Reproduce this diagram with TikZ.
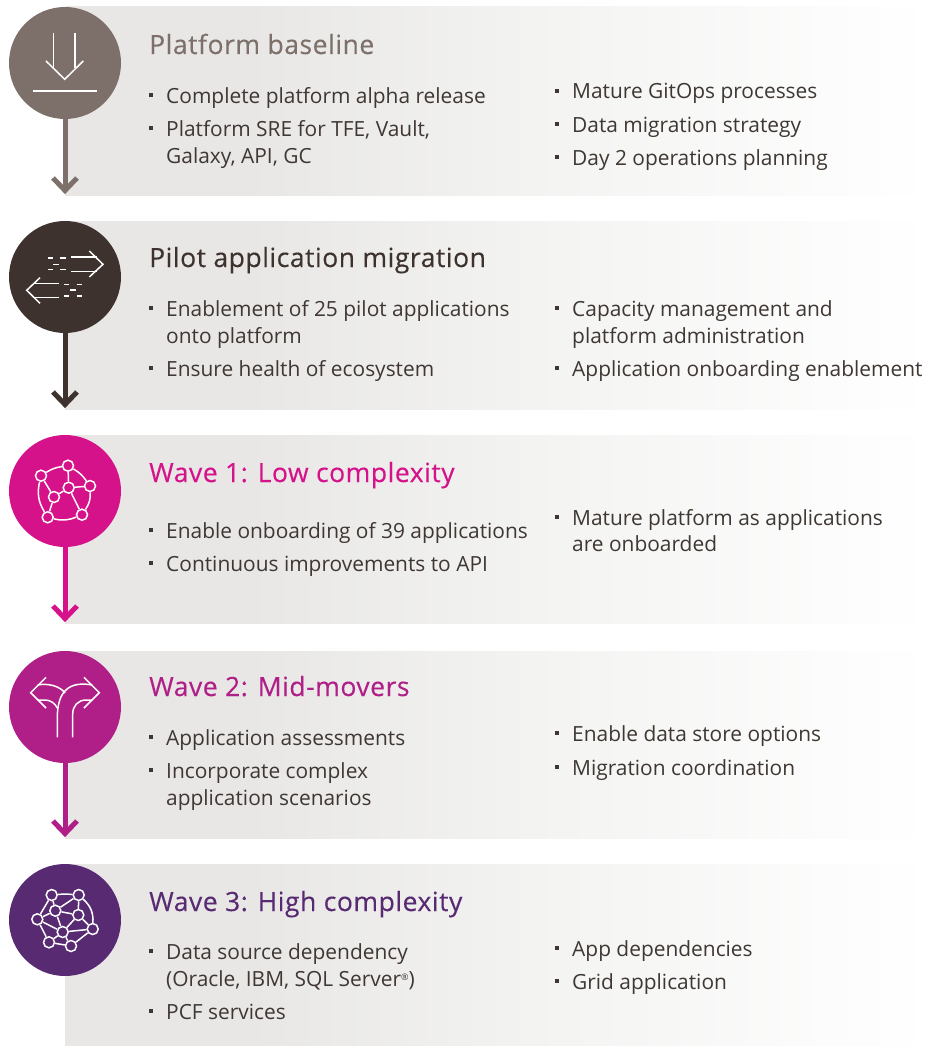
\documentclass[tikz,border=0pt]{standalone}
\usepackage{fontspec}
\setmainfont{Open Sans}
\newfontface\titlefont[LetterSpace=2,FakeBold=0.25]{Open Sans}
\definecolor{cA}{HTML}{7D706A}
\definecolor{cB}{HTML}{3D322D}
\definecolor{cC}{HTML}{D5128A}
\definecolor{cD}{HTML}{B01E87}
\definecolor{cE}{HTML}{572A72}
\definecolor{txt}{HTML}{3F3733}
\definecolor{band}{HTML}{E8E7E6}
\definecolor{bandmid}{HTML}{F3F3F2}
\pgfdeclarehorizontalshading{bandfade}{100bp}{color(0bp)=(band); color(35.7bp)=(band); color(51.9bp)=(bandmid); color(75bp)=(white); color(100bp)=(white)}
\tikzset{
  x=1pt,y=-1pt,
  bandbox/.style={shading=bandfade,draw=none},
  disc/.style={circle,minimum size=112pt,inner sep=0pt,fill=#1},
  stem/.style={draw=#1,line width=5pt},
  tip/.style={draw=#1,line width=5pt,miter limit=10},
  title/.style={anchor=base west,inner sep=0pt,font=\titlefont\fontsize{26.5}{30}\selectfont,text=#1},
  body/.style={anchor=base west,inner sep=0pt,font=\fontsize{20.9}{27}\selectfont,text=txt},
  bul/.style={rectangle,fill=txt,minimum size=4pt,inner sep=0pt},
  ico/.style={draw=white,line width=1.5pt},
  hub/.style={circle,draw=white,line width=1.5pt,minimum size=11pt,inner sep=0pt,fill=#1},
}
\newcommand{\stp}[5]{% name, cy, band top, band bottom, colour
  \fill[bandbox] (65,#3) rectangle (930,#4);
  \node[disc=#5] (#1) at (65,#2) {};
}
\newcommand{\flow}[3]{% name, colour, tip y
  \coordinate (#1end) at (65,#3);
  \draw[stem=#2] (#1.south) -- ([yshift=5pt]#1end);
  \draw[tip=#2] ([shift={(-12,-16)}]#1end) -- ([yshift=3.5pt]#1end) -- ([shift={(12,-16)}]#1end);
}
\newcommand{\bitem}[4]{% name, x, y, text
  \node[bul] (#1b) at (#2-15,#3-8) {};
  \node[body] (#1) at (#2,#3) {#4};
}
\begin{document}
\begin{tikzpicture}
\useasboundingbox (0,0) rectangle (930,1046);
\fill[white] (0,0) rectangle (930,1046);
% steps
\stp{sA}{63}{7}{195}{cA}
\stp{sB}{277}{221}{409}{cB}
\stp{sC}{491}{435}{623}{cC}
\stp{sD}{707}{651}{838}{cD}
\stp{sE}{920}{864}{1046}{cE}
\flow{sA}{cA}{194}
\flow{sB}{cB}{408}
\flow{sC}{cC}{622}
\flow{sD}{cD}{837}
% titles
\node[title=cA] (tA) at (149,54) {Platform baseline};
\node[title=cB] (tB) at (149,267) {Pilot application migration};
\node[title=cC] (tC) at (149,482) {Wave 1: Low complexity};
\node[title=cD] (tD) at (149,696) {Wave 2: Mid-movers};
\node[title=cE] (tE) at (149,911) {Wave 3: High complexity};
% items 1
\bitem{a1}{166}{103}{Complete platform alpha release}
\bitem{a2}{166}{136}{Platform SRE for TFE, Vault,}
\node[body] (a2x) at (166,163) {Galaxy, API, GC};
\bitem{a3}{572}{99}{Mature GitOps processes}
\bitem{a4}{572}{132}{Data migration strategy}
\bitem{a5}{572}{165}{Day 2 operations planning}
% items 2
\bitem{b1}{166}{316}{Enablement of 25 pilot applications}
\node[body] (b1x) at (166,343) {onto platform};
\bitem{b2}{166}{376}{Ensure health of ecosystem}
\bitem{b3}{572}{316}{Capacity management and}
\node[body] (b3x) at (572,343) {platform administration};
\bitem{b4}{572}{376}{Application onboarding enablement}
% items 3
\bitem{c1}{166}{538}{Enable onboarding of 39 applications}
\bitem{c2}{166}{571}{Continuous improvements to API}
\bitem{c3}{572}{525}{Mature platform as applications}
\node[body] (c3x) at (572,551) {are onboarded};
% items 4
\bitem{d1}{166}{745}{Application assessments}
\bitem{d2}{166}{778}{Incorporate complex}
\node[body] (d2x) at (166,805) {application scenarios};
\bitem{d3}{572}{741}{Enable data store options}
\bitem{d4}{572}{775}{Migration coordination}
% items 5
\bitem{e1}{166}{959}{Data source dependency}
\node[body] (e1x) at (166,986) {(Oracle, IBM, SQL Server\raisebox{6pt}{\fontsize{9}{9}\selectfont ®})};
\bitem{e2}{166}{1019}{PCF services}
\bitem{e3}{572}{956}{App dependencies}
\bitem{e4}{572}{989}{Grid application}
% icon 1
\draw[ico] (53.3,33.5) -- (53.3,68.5);
\draw[ico] (75,33.5) -- (75,68.5);
\draw[ico] (46,61) -- (64.7,79.3) -- (83.3,61);
\draw[ico] (33,91) -- (97,91);
% icon 2
\draw[ico] (71,257) -- (97,257) (71,271.7) -- (97,271.7);
\draw[ico] (89.3,251) -- (103,264.3) -- (89.3,277);
\draw[ico] (47.7,258) -- (53.3,258) (60,258) -- (65.7,258) (53.3,264.3) -- (59.3,264.3) (47.7,269.3) -- (52.7,269.3) (60,269.3) -- (65.7,269.3);
\draw[ico] (33.3,283.3) -- (59,283.3) (33.3,297.7) -- (59,297.7);
\draw[ico] (40,277.7) -- (26.7,290.3) -- (40,303.3);
\draw[ico] (64,284.3) -- (69,284.3) (76.7,284.3) -- (82.3,284.3) (70,290) -- (76,290) (64,296) -- (69,296) (76.7,296) -- (82.3,296);
% icon 3
\node[hub=cC] (n1) at (41,475.7) {};
\node[hub=cC] (n2) at (68,465.7) {};
\node[hub=cC] (n3) at (90,486) {};
\node[hub=cC] (n4) at (68.7,487.7) {};
\node[hub=cC] (n5) at (54,497) {};
\node[hub=cC] (n6) at (47.7,517.3) {};
\node[hub=cC] (n7) at (82,514.7) {};
\draw[ico] (n1) to[bend left=12] (n2);
\draw[ico] (n2) to[bend left=12] (n3);
\draw[ico] (n3) to[bend left=18] (n7);
\draw[ico] (n7) to[bend left=18] (n6);
\draw[ico] (n6) to[bend left=22] (n1);
\draw[ico] (n2) -- (n4);
\draw[ico] (n4) -- (n3);
\draw[ico] (n4) -- (n5);
\draw[ico] (n1) -- (n5);
\draw[ico] (n5) -- (n6);
\draw[ico] (n4) -- (n7);
% icon 4
\draw[ico] (46,677.3) -- (30.7,692.7) -- (46,708);
\draw[ico] (84,677.3) -- (99.3,692.7) -- (84,708);
\draw[ico] (92.3,685) .. controls (70,681) and (57.3,690) .. (57.3,718) -- (57.3,737.3);
\draw[ico] (37.7,685) .. controls (48,683) and (60,686) .. (65,693);
\draw[ico] (37.7,700) -- (45,700) .. controls (50,700) and (55,703) .. (57.3,708);
\draw[ico] (92.3,700) -- (86,700) .. controls (78,700) and (72.7,706) .. (72.7,714) -- (72.7,737.3);
% icon 5
\node[hub=cE] (m1) at (51.7,895) {};
\node[hub=cE] (m2) at (78.7,895) {};
\node[hub=cE] (m3) at (55.3,910.7) {};
\node[hub=cE] (m4) at (78.3,915) {};
\node[hub=cE] (m5) at (37.3,919.3) {};
\node[hub=cE] (m6) at (62.7,932) {};
\node[hub=cE] (m7) at (92.7,929) {};
\node[hub=cE] (m8) at (49,942.3) {};
\node[hub=cE] (m9) at (71,946) {};
\draw[ico] (m1) to[bend left=5] (m2);
\draw[ico] (m2) to[bend left=25] (m7);
\draw[ico] (m7) -- (m9);
\draw[ico] (m9) -- (m8);
\draw[ico] (m8) -- (m5);
\draw[ico] (m5) -- (m1);
\draw[ico] (m1) -- (m3);
\draw[ico] (m2) -- (m4);
\draw[ico] (m3) -- (m2);
\draw[ico] (m3) -- (m4);
\draw[ico] (m3) -- (m5);
\draw[ico] (m3) -- (m6);
\draw[ico] (m4) -- (m6);
\draw[ico] (m4) -- (m7);
\draw[ico] (m5) -- (m6);
\draw[ico] (m6) -- (m7);
\draw[ico] (m6) -- (m8);
\draw[ico] (m6) -- (m9);
\end{tikzpicture}
\end{document}
